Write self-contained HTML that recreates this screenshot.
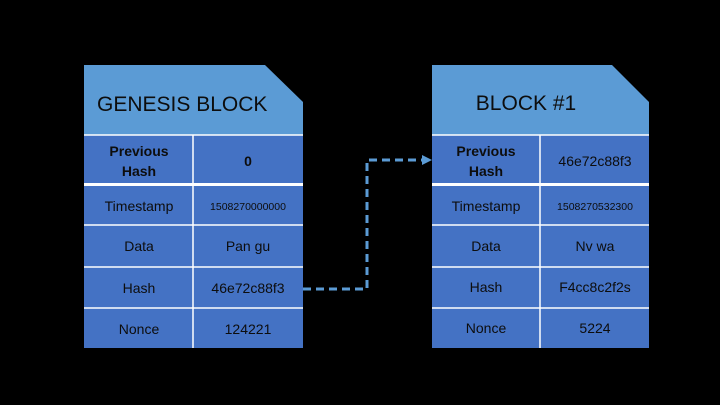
<!DOCTYPE html>
<html><head><style>
body{margin:0;background:#000;width:720px;height:405px;overflow:hidden;font-family:"Liberation Sans",sans-serif}
svg{display:block}
</style></head><body>
<svg width="720" height="405" viewBox="0 0 720 405" font-family="Liberation Sans, sans-serif">
<rect width="720" height="405" fill="#000"/>
<!-- Genesis -->
<polygon points="84,65 265,65 303,102 303,135 84,135" fill="#5b9bd5"/>
<text x="97" y="111" font-size="21" fill="#0d0d0d">GENESIS BLOCK</text>
<rect x="84" y="135" width="219" height="213" fill="#4472c4"/>
<g stroke="#fff" stroke-width="1.5">
<line x1="84" y1="135" x2="303" y2="135"/>
<line x1="84" y1="184.5" x2="303" y2="184.5" stroke-width="3"/>
<line x1="84" y1="225" x2="303" y2="225"/>
<line x1="84" y1="267" x2="303" y2="267"/>
<line x1="84" y1="308" x2="303" y2="308"/>
<line x1="193" y1="135" x2="193" y2="348"/>
</g>
<g fill="#0d0d0d" font-size="14" text-anchor="middle">
<text x="139" y="156" font-weight="bold">Previous</text>
<text x="139" y="176" font-weight="bold">Hash</text>
<text x="248" y="166" font-weight="bold">0</text>
<text x="139" y="211">Timestamp</text>
<text x="248" y="210" font-size="10.5">1508270000000</text>
<text x="139" y="251">Data</text>
<text x="248" y="251">Pan gu</text>
<text x="139" y="293">Hash</text>
<text x="248" y="293">46e72c88f3</text>
<text x="139" y="334">Nonce</text>
<text x="248" y="334">124221</text>
</g>
<!-- Block 1 -->
<polygon points="432,65 612,65 649,102 649,135 432,135" fill="#5b9bd5"/>
<text x="526" y="110" font-size="21" fill="#0d0d0d" text-anchor="middle">BLOCK #1</text>
<rect x="432" y="135" width="217" height="213" fill="#4472c4"/>
<g stroke="#fff" stroke-width="1.5">
<line x1="432" y1="135" x2="649" y2="135"/>
<line x1="432" y1="184.5" x2="649" y2="184.5" stroke-width="3"/>
<line x1="432" y1="225" x2="649" y2="225"/>
<line x1="432" y1="267" x2="649" y2="267"/>
<line x1="432" y1="308" x2="649" y2="308"/>
<line x1="540" y1="135" x2="540" y2="348"/>
</g>
<g fill="#0d0d0d" font-size="14" text-anchor="middle">
<text x="486" y="156" font-weight="bold">Previous</text>
<text x="486" y="176" font-weight="bold">Hash</text>
<text x="595" y="166">46e72c88f3</text>
<text x="486" y="211">Timestamp</text>
<text x="595" y="210" font-size="10.5">1508270532300</text>
<text x="486" y="251">Data</text>
<text x="595" y="251">Nv wa</text>
<text x="486" y="292">Hash</text>
<text x="595" y="292">F4cc8c2f2s</text>
<text x="486" y="333">Nonce</text>
<text x="595" y="333">5224</text>
</g>
<!-- connector -->
<polyline points="303,289 367,289 367,160 424,160" fill="none" stroke="#5b9bd5" stroke-width="3" stroke-dasharray="8,5"/>
<polygon points="422,155 432,160 422,165" fill="#5b9bd5"/>
</svg>
</body></html>
